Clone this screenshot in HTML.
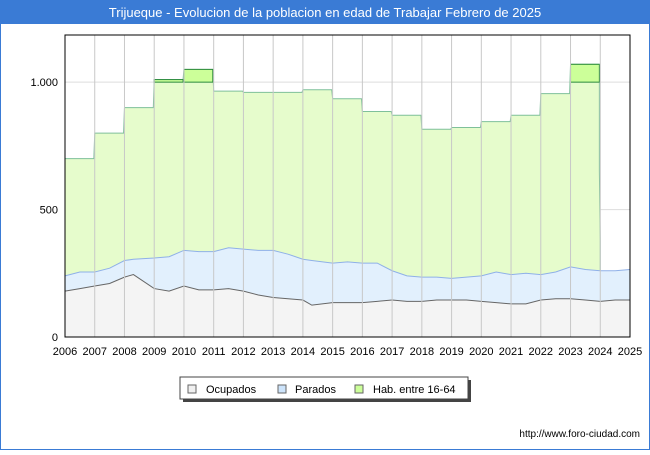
<!DOCTYPE html>
<html><head><meta charset="utf-8"><style>
body{margin:0;background:#fff;font-family:"Liberation Sans","DejaVu Sans",sans-serif}
</style></head><body>
<svg id="c" width="650" height="450" xmlns="http://www.w3.org/2000/svg">
<rect x="0" y="0" width="650" height="450" fill="#fff" stroke="#3a7bd5" stroke-width="2"/>
<rect x="0" y="0" width="650" height="24" fill="#3a7bd5"/>
<text x="325" y="17" text-anchor="middle" fill="#fff" font-size="13">Trijueque - Evolucion de la poblacion en edad de Trabajar Febrero de 2025</text>
<g id="plot"></g>
<rect x="65" y="35" width="565" height="302" fill="none" stroke="#000"/>
<g>
<rect x="183" y="380" width="288" height="22" fill="#444"/>
<rect x="180" y="377" width="288" height="22" fill="#fff" stroke="#444"/>
<rect x="188" y="385" width="8" height="8" fill="#f0f0f0" stroke="#666"/>
<text x="206" y="393" font-size="11">Ocupados</text>
<rect x="278" y="385" width="8" height="8" fill="#cde4fb" stroke="#666"/>
<text x="295" y="393" font-size="11">Parados</text>
<rect x="355" y="385" width="8" height="8" fill="#ccff99" stroke="#666"/>
<text x="373" y="393" font-size="11">Hab. entre 16-64</text>
</g>
<text x="640" y="437" text-anchor="end" font-size="10">http://www.foro-ciudad.com</text>
</svg>
<script>
const years=[2006,2007,2008,2009,2010,2011,2012,2013,2014,2015,2016,2017,2018,2019,2020,2021,2022,2023,2024,2025];
const habYears=[2006,2007,2008,2009,2010,2011,2012,2013,2014,2015,2016,2017,2018,2019,2020,2021,2022,2023];
const habValues=[700,800,900,1010,1050,965,960,960,970,935,885,870,815,822,845,870,955,1070];
const workTimes=[2006,2006.5,2007,2007.5,2008,2008.3,2009,2009.5,2010,2010.5,2011,2011.5,2012,2012.5,2013,2013.5,2014,2014.3,2015,2015.5,2016,2016.5,2017,2017.5,2018,2018.5,2019,2019.5,2020,2020.5,2021,2021.5,2022,2022.5,2023,2023.5,2024,2024.5,2025];
const ocupados=[180,190,200,210,235,245,190,180,200,185,185,190,180,165,155,150,145,125,135,135,135,140,145,140,140,145,145,145,140,135,130,130,145,150,150,145,140,145,145];
const parados=[60,65,55,60,65,60,120,135,140,150,150,160,165,175,185,175,160,175,155,160,155,150,115,100,95,90,85,90,100,120,115,120,100,105,125,120,120,115,120];
const yTicks=[0,500,1000];
const yLabels=["0","500","1.000"];
const NS="http://www.w3.org/2000/svg";
const X0=65,X1=630,Y0=337,YMAX=1185;
const xs=t=>X0+(t-2006)/(2025-2006)*(X1-X0);
const ys=v=>Y0-v/YMAX*(Y0-35);
const plotG=document.getElementById('plot');
function mk(tag,attrs){const e=document.createElementNS(NS,tag);for(const k in attrs)e.setAttribute(k,attrs[k]);plotG.appendChild(e);return e;}
yTicks.forEach((v,i)=>{
 const l=mk('line',{x1:X0,x2:X1,y1:ys(v),y2:ys(v),stroke:'#ddd'});
 
 
 const t=mk('text',{x:58,y:ys(v)+4,'text-anchor':'end','font-size':'11'});t.textContent=yLabels[i];
 
 
});
let habD=`M${xs(habYears[0])},${Y0}`;
habYears.forEach((y,i)=>{habD+=`L${xs(y)},${ys(habValues[i])}L${xs(y+0.97)},${ys(habValues[i])}`;});
habD+=`L${xs(2023.97)},${ys(650)}L${xs(2024)},${ys(380)}L${xs(2024)},${Y0}Z`;
const hab=mk('path',{d:habD,fill:'#e6fccc',stroke:'#7fc09a','stroke-width':1});


habYears.forEach((y,i)=>{if(habValues[i]>1000){
 const r=mk('rect',{x:xs(y),y:ys(habValues[i]),width:xs(y+0.97)-xs(y),height:ys(1000)-ys(habValues[i]),fill:'#ccff99',stroke:'#2a8a3a'});
 
 
}});
let topPath='';
workTimes.forEach((t,i)=>{topPath+=(i?'L':'M')+xs(t)+','+ys(ocupados[i]+parados[i]);});
let pd=topPath;for(let i=workTimes.length-1;i>=0;i--)pd+=`L${xs(workTimes[i])},${ys(ocupados[i])}`;pd+='Z';
const pa=mk('path',{d:pd,fill:'#e2f0fd',stroke:'none'});


const pl=mk('path',{d:topPath,fill:'none',stroke:'#8fb0e8'});


let od='';workTimes.forEach((t,i)=>{od+=(i?'L':'M')+xs(t)+','+ys(ocupados[i]);});
const oa=mk('path',{d:od+`L${X1},${Y0}L${X0},${Y0}Z`,fill:'#f4f4f4',stroke:'none'});


const ol=mk('path',{d:od,fill:'none',stroke:'#666'});


years.forEach(y=>{
 const l=mk('line',{x1:xs(y),x2:xs(y),y1:35,y2:Y0,stroke:'#c8c8c8'});
 
 
 const t=mk('text',{x:xs(y),y:355,'text-anchor':'middle','font-size':'11'});t.textContent=y;
 
 
});
</script>
</body></html>
